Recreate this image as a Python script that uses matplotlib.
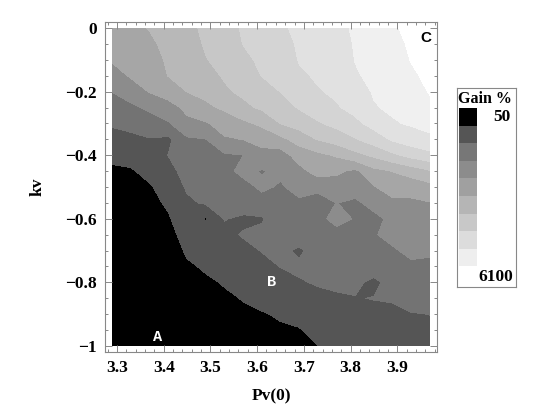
import numpy as np
import matplotlib.pyplot as plt
from matplotlib.patches import Rectangle

plt.rcParams['font.family'] = ['Liberation Serif', 'DejaVu Serif']
plt.rcParams['font.weight'] = 'bold'

# grid of the map (Pv(0) across, kv down)
pv0 = [3.29, 3.33, 3.37, 3.41, 3.45, 3.49, 3.53, 3.57, 3.61,
       3.65, 3.69, 3.73, 3.77, 3.81, 3.85, 3.89, 3.93, 3.97]
kv = [0.0, -0.05, -0.10, -0.15, -0.20, -0.25, -0.30, -0.35, -0.40, -0.45, -0.50,
      -0.55, -0.60, -0.65, -0.70, -0.75, -0.80, -0.85, -0.90, -0.95, -1.0]

# gain in %, one row per kv value
gain = [
    [2525, 2635, 2830, 3020, 3240, 3430, 3680, 3955, 4150, 4370, 4560, 4725, 4890, 5055, 5275, 5495, 5660, 5825],
    [2415, 2525, 2690, 2965, 3130, 3405, 3590, 3910, 4065, 4250, 4515, 4655, 4795, 5035, 5220, 5410, 5615, 5765],
    [2305, 2415, 2555, 2885, 3020, 3325, 3505, 3795, 3985, 4135, 4480, 4580, 4710, 5015, 5160, 5325, 5570, 5705],
    [2030, 2305, 2415, 2815, 2910, 3130, 3415, 3630, 3910, 4015, 4370, 4510, 4615, 4950, 5105, 5240, 5480, 5645],
    [1710, 1975, 2280, 2470, 2810, 2940, 3255, 3465, 3665, 3910, 4150, 4415, 4525, 4765, 5045, 5155, 5335, 5585],
    [1480, 1590, 1810, 2060, 2360, 2690, 2895, 3210, 3440, 3635, 3945, 4150, 4405, 4595, 4960, 5085, 5205, 5440],
    [1205, 1290, 1425, 1645, 2140, 2195, 2455, 2690, 2895, 3360, 3585, 3845, 4055, 4335, 4630, 4945, 5060, 5185],
    [985, 1040, 1125, 1040, 1620, 1685, 2195, 2260, 2480, 2655, 3020, 3380, 3590, 3860, 4175, 4525, 4740, 4870],
    [710, 795, 930, 1160, 1480, 1260, 1630, 1695, 2040, 1975, 2500, 2665, 2855, 3185, 3450, 3780, 4080, 4285],
    [520, 545, 765, 985, 1340, 1440, 1515, 1865, 1660, 1815, 2075, 2470, 2345, 2140, 2645, 2810, 3040, 3295],
    [435, 435, 545, 850, 1205, 1325, 1645, 1485, 1810, 1630, 1920, 1860, 2000, 2120, 2205, 2580, 2455, 2610],
    [380, 380, 435, 685, 1070, 1205, 1290, 1380, 1465, 1260, 1590, 1425, 1710, 1535, 1980, 2080, 2155, 2225],
    [325, 355, 380, 545, 930, 545, 1170, 1070, 1100, 1435, 1495, 1550, 1865, 1660, 1480, 1890, 1985, 2070],
    [325, 325, 355, 435, 795, 935, 1045, 1180, 1270, 1340, 1410, 1465, 1515, 1565, 1625, 1975, 1825, 1920],
    [300, 325, 325, 380, 655, 790, 910, 1045, 1165, 1250, 1070, 1370, 1415, 1455, 1500, 1585, 1920, 1765],
    [270, 300, 325, 355, 545, 645, 765, 900, 1030, 1160, 1225, 1275, 1535, 1350, 1385, 1455, 1525, 1610],
    [270, 270, 300, 325, 460, 545, 625, 760, 875, 980, 1115, 1185, 1215, 1245, 1040, 1320, 1385, 1460],
    [240, 270, 270, 300, 405, 460, 545, 615, 720, 810, 930, 1055, 1105, 1130, 1165, 1190, 1480, 1305],
    [215, 240, 270, 270, 355, 405, 460, 545, 570, 645, 745, 900, 950, 995, 1025, 1055, 1105, 1160],
    [215, 215, 240, 270, 325, 355, 405, 460, 490, 545, 570, 755, 805, 850, 885, 915, 965, 1010],
    [215, 215, 215, 240, 325, 325, 355, 405, 435, 490, 520, 595, 655, 710, 750, 780, 820, 875],
]

gain_levels = [50, 600, 1150, 1700, 2250, 2800, 3350, 3900, 4450, 5000, 5550, 6100]
band_grays = ['#000000', '#555555', '#737373', '#8c8c8c', '#a6a6a6', '#b8b8b8',
              '#c7c7c7', '#d4d4d4', '#e1e1e1', '#f0f0f0', '#ffffff']
legend_grays = ['#000000', '#555555', '#777777', '#8c8c8c', '#a0a0a0',
                '#b5b5b5', '#c8c8c8', '#dcdcdc', '#eeeeee']

xtick_vals = [3.3, 3.4, 3.5, 3.6, 3.7, 3.8, 3.9]
xtick_labels = ['3.3', '3.4', '3.5', '3.6', '3.7', '3.8', '3.9']
ytick_vals = [0, -0.2, -0.4, -0.6, -0.8, -1]
ytick_labels = ['0', '\u22120.2', '\u22120.4', '\u22120.6', '\u22120.8', '\u22121']

marks = [('A', 3.386, -0.972, 'white', 'Liberation Mono'),
         ('B', 3.630, -0.800, 'white', 'Liberation Mono'),
         ('C', 3.962, -0.031, 'black', 'Liberation Sans')]

W, H = 556, 417
fig = plt.figure(figsize=(W / 100, H / 100), dpi=100)
ax = fig.add_axes([105 / W, (H - 352) / H, 332 / W, 330 / H])

ax.contourf(pv0, kv, np.array(gain), levels=gain_levels, colors=band_grays)

ax.set_xlim(3.2743, 3.985)
ax.set_ylim(-1.0189, 0.0189)

ax.set_xticks(xtick_vals)
ax.set_xticklabels(xtick_labels)
ax.set_yticks(ytick_vals)
ax.set_yticklabels(ytick_labels)
ax.set_xticks(np.arange(3.28, 3.99, 0.02), minor=True)
ax.set_yticks(np.arange(-1.0, 0.01, 0.05), minor=True)
ax.tick_params(which='both', direction='in', top=True, right=True,
               color='#888888', width=0.7, labelsize=12.5, pad=6)
ax.tick_params(which='major', length=5)
ax.tick_params(which='minor', length=2.5)
for sp in ax.spines.values():
    sp.set_color('#888888')
    sp.set_linewidth(0.8)

ax.set_xlabel('Pv(0)', fontsize=12.5, fontweight='bold', labelpad=9)
ax.set_ylabel('kv', fontsize=12.5, fontweight='bold', labelpad=14)

for txt, x, y, c, fam in marks:
    ax.text(x, y, txt, color=c, fontsize=11, fontweight='bold',
            family=fam, ha='center', va='center')

# legend box
lax = fig.add_axes([457 / W, (H - 287) / H, 59 / W, 199 / H])
lax.set_xlim(0, 59)
lax.set_ylim(199, 0)
lax.set_xticks([])
lax.set_yticks([])
for sp in lax.spines.values():
    sp.set_color('#888888')
    sp.set_linewidth(0.8)
lax.text(1.5, 11, 'Gain %', fontsize=11.5, fontweight='bold', va='center', ha='left')
sw_h = 17.6
for k, g in enumerate(legend_grays):
    lax.add_patch(Rectangle((2, 20 + k * sw_h), 18, sw_h, color=g, lw=0))
lax.text(54, 29, '50', fontsize=12.5, fontweight='bold', va='center', ha='right')
lax.text(56, 189, '6100', fontsize=12.5, fontweight='bold', va='center', ha='right')

fig.savefig('out.png', dpi=100)
